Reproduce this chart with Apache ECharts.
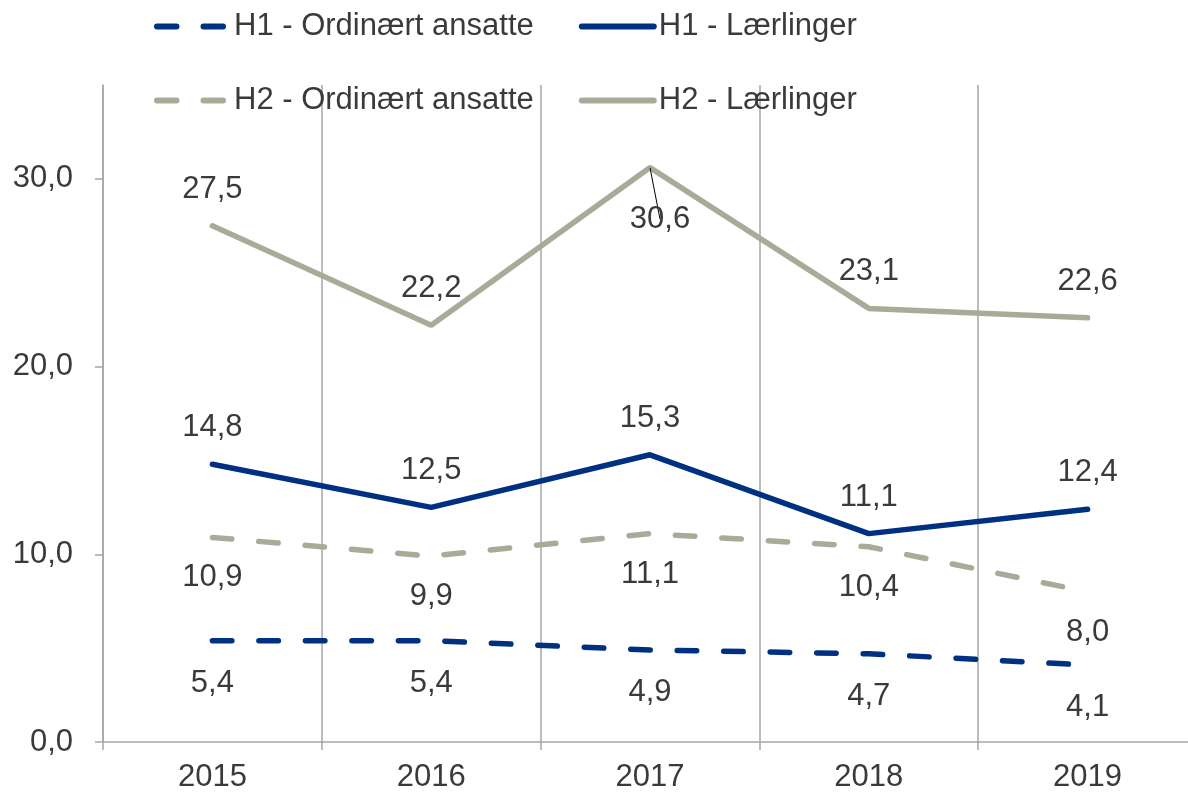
<!DOCTYPE html>
<html>
<head>
<meta charset="utf-8">
<script src="https://cdn.jsdelivr.net/npm/echarts@6/dist/echarts.min.js"></script>
<style>
  html, body { margin: 0; padding: 0; background: #fff; overflow: hidden; }
  /* the plot area runs a little past the right edge in the reference */
  #chart { width: 1197px; height: 795px; }
</style>
</head>
<body>
<div id="chart"></div>
<script>
// data
var years = ['2015', '2016', '2017', '2018', '2019'];
var h1Ordinaert = [5.4, 5.4, 4.9, 4.7, 4.1];
var h1Laerlinger = [14.8, 12.5, 15.3, 11.1, 12.4];
var h2Ordinaert = [10.9, 9.9, 11.1, 10.4, 8.0];
var h2Laerlinger = [27.5, 22.2, 30.6, 23.1, 22.6];

var blue = '#003082';
var grey = '#A9AB99';
var axisGrey = '#A6A6A6';
var textColor = '#3A3A3A';
var font = '"Liberation Sans", Arial, sans-serif';
var fs = 31;

function fmt(v) {
  return v.toFixed(1).replace('.', ',');
}

function makeSeries(name, values, color, dashed, pos, dist) {
  return {
    name: name,
    type: 'line',
    symbol: 'circle',
    symbolSize: 0.1,
    data: values,
    lineStyle: {
      color: color,
      width: 5.5,
      type: dashed ? [19.5, 27] : 'solid',
      cap: 'round'
    },
    itemStyle: { color: color },
    label: {
      show: true,
      position: pos,
      distance: dist,
      fontFamily: font,
      fontSize: fs,
      color: textColor,
      formatter: function (p) { return fmt(p.value); }
    }
  };
}

var chart = echarts.init(document.getElementById('chart'));

var sH2L = makeSeries('H2 - Lærlinger', h2Laerlinger, grey, false, 'top', 21);
// 2017 label sits below the peak with a small leader line
sH2L.data = h2Laerlinger.map(function (v, i) {
  if (i === 2) {
    return {
      value: v,
      label: { position: 'bottom', distance: 36, offset: [10, 0] },
      labelLine: { show: true, lineStyle: { color: '#000', width: 1 } }
    };
  }
  return v;
});

var legendBase = {
  left: 149,
  itemWidth: 72,
  itemHeight: 20,
  itemGap: 45,
  itemStyle: { opacity: 0 },
  lineStyle: { width: 6, cap: 'round' },
  textStyle: { fontFamily: font, fontSize: fs, color: textColor }
};

var option = {
  animation: false,
  backgroundColor: '#fff',
  textStyle: { fontFamily: font },
  legend: [
    Object.assign({}, legendBase, { top: 6, data: ['H1 - Ordinært ansatte', 'H1 - Lærlinger'] }),
    Object.assign({}, legendBase, { top: 80, data: ['H2 - Ordinært ansatte', 'H2 - Lærlinger'] })
  ],
  grid: {
    left: 103,
    right: 0,
    top: 85,
    bottom: 53,
    containLabel: false
  },
  xAxis: {
    type: 'category',
    data: years,
    boundaryGap: true,
    axisLine: { lineStyle: { color: axisGrey, width: 1.5 } },
    axisTick: { show: true, length: 8, lineStyle: { color: axisGrey, width: 1.5 } },
    axisLabel: { fontFamily: font, fontSize: fs, color: textColor, margin: 20 },
    splitLine: { show: true, lineStyle: { color: axisGrey, width: 1.5 } }
  },
  yAxis: {
    type: 'value',
    min: 0,
    max: 35,
    interval: 10,
    axisLine: { show: true, lineStyle: { color: axisGrey, width: 1.5 } },
    axisTick: { show: true, length: 8, lineStyle: { color: axisGrey, width: 1.5 } },
    axisLabel: {
      fontFamily: font,
      fontSize: fs,
      color: textColor,
      margin: 30,
      showMaxLabel: false,
      formatter: function (v) { return fmt(v); }
    },
    splitLine: { show: false }
  },
  series: [
    makeSeries('H1 - Ordinært ansatte', h1Ordinaert, blue, true, 'bottom', 27),
    makeSeries('H1 - Lærlinger', h1Laerlinger, blue, false, 'top', 21),
    makeSeries('H2 - Ordinært ansatte', h2Ordinaert, grey, true, 'bottom', 25),
    sH2L
  ]
};

chart.setOption(option);
</script>
</body>
</html>
